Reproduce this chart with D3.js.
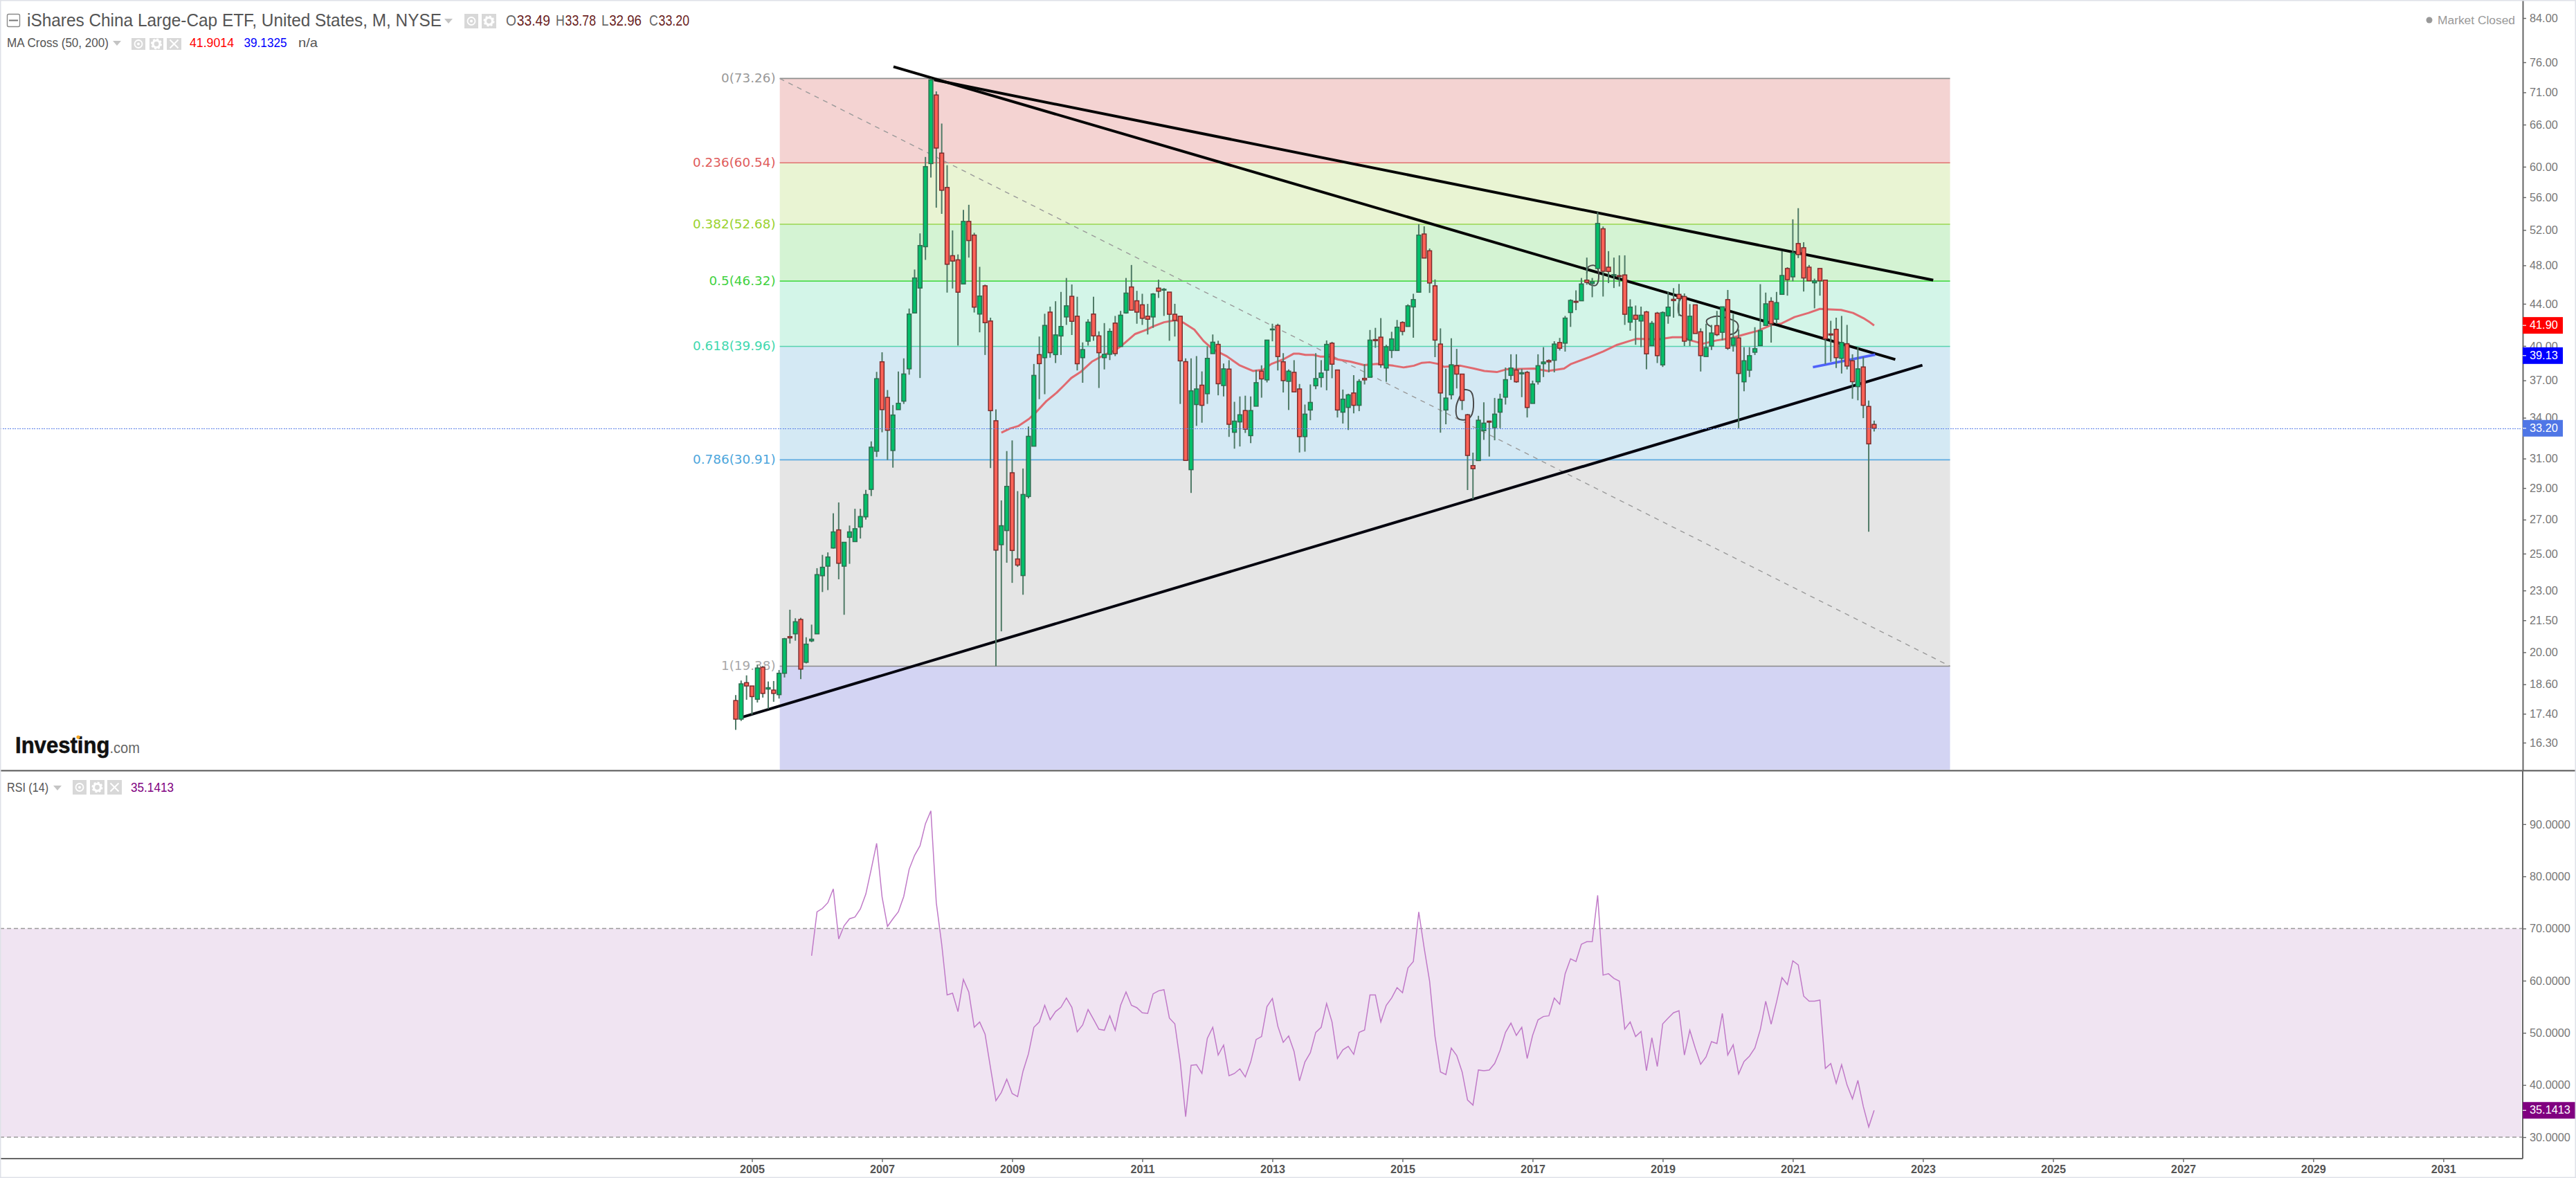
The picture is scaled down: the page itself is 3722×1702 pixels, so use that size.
<!DOCTYPE html>
<html><head><meta charset="utf-8">
<script src="https://cdn.jsdelivr.net/npm/d3@7"></script>
<style>
html,body{margin:0;padding:0;background:#fff;overflow:hidden}
svg{display:block}
text{font-family:"Liberation Sans",Arial,sans-serif}
</style></head><body><div id="chart"></div>
<script>
// Candle index 0 = Oct 2004, one candle per month
const opens=[17.93,17.19,18.67,18.53,17.98,19.33,18.40,18.36,18.17,19.07,20.72,20.85,21.54,19.55,20.52,20.85,23.78,24.30,25.32,26.38,24.30,25.94,25.69,26.55,27.17,28.91,31.52,38.59,35.60,31.57,34.63,35.30,37.98,43.10,45.60,50.07,60.43,70.58,61.88,57.25,49.06,48.60,46.02,53.02,51.40,42.99,45.83,42.32,33.77,25.51,26.34,30.02,24.70,23.79,28.45,31.88,39.22,38.95,43.18,39.22,40.91,42.71,44.75,42.78,38.95,40.43,42.99,40.92,38.95,39.25,42.12,39.95,43.10,45.71,44.30,43.90,42.78,42.71,45.59,45.39,45.18,42.97,42.78,38.60,30.23,35.03,36.60,35.90,39.31,40.14,36.57,37.96,32.90,33.68,34.56,32.65,34.90,37.78,37.04,41.50,41.90,38.59,36.92,37.68,36.29,32.58,34.60,36.55,37.24,37.86,40.25,37.88,34.43,34.80,35.96,34.97,37.17,37.26,40.58,40.80,38.05,39.59,39.59,42.18,41.80,43.69,45.17,51.53,49.61,45.83,40.17,34.60,35.81,38.25,37.53,34.23,30.51,30.86,33.02,33.74,33.25,34.43,35.62,37.42,37.88,37.55,37.68,35.12,36.88,38.42,38.70,38.72,40.31,40.25,43.14,44.25,44.30,46.42,46.07,47.66,52.14,47.80,46.90,46.90,46.97,42.21,42.88,42.32,43.20,40.03,43.08,38.32,42.81,44.45,44.95,44.73,40.53,43.90,41.30,39.05,39.99,41.88,41.25,44.42,40.05,40.73,36.88,37.86,39.43,40.03,41.90,44.24,42.49,44.95,47.66,46.77,50.43,49.95,47.80,46.14,47.66,46.42,41.10,41.53,38.89,40.20,38.68,36.48,38.14,34.88,33.49];
const highs=[18.15,18.76,18.98,18.53,19.44,19.39,18.72,18.74,19.21,20.66,22.02,21.60,21.62,20.69,21.29,24.19,24.93,25.07,27.39,28.07,25.65,26.64,27.67,27.67,28.88,32.23,37.72,39.43,36.20,34.99,37.75,38.89,43.53,47.55,51.60,61.34,73.26,71.15,66.16,60.21,51.95,49.20,54.42,55.05,51.67,47.84,45.95,42.64,34.65,28.20,31.53,32.30,28.80,30.31,33.33,38.40,40.86,43.02,43.72,44.26,45.20,46.65,45.97,44.71,40.32,42.49,44.71,41.34,42.12,41.62,42.81,43.30,46.65,48.04,45.31,45.01,43.99,45.08,46.47,45.60,45.18,44.00,42.78,38.89,38.89,39.09,37.76,39.95,41.05,40.47,38.44,38.73,35.25,35.68,35.74,35.68,37.88,38.28,40.53,42.06,42.06,39.35,37.93,38.73,36.70,35.03,36.66,39.35,38.73,40.50,40.37,37.88,36.24,35.90,37.44,37.10,38.38,41.47,41.67,42.60,40.10,41.30,42.42,42.30,43.95,45.01,52.68,52.43,49.87,46.49,41.62,37.98,40.70,39.73,37.53,34.30,31.42,34.15,35.21,33.78,35.56,35.90,38.09,39.25,39.25,37.98,37.80,36.98,39.25,39.89,38.80,40.43,40.73,42.81,44.45,45.36,46.65,48.85,46.65,54.14,52.41,49.57,48.85,49.10,49.10,44.45,43.83,43.72,43.30,42.32,43.20,43.25,45.24,45.59,46.02,45.04,43.97,43.90,41.62,42.06,41.95,43.30,43.70,45.40,42.99,41.52,39.89,39.89,41.73,46.00,45.13,44.66,45.20,49.57,47.80,53.27,54.63,50.58,48.04,46.58,47.66,46.42,42.34,42.64,42.81,41.95,39.25,39.89,39.00,35.35,33.78];
const lows=[16.78,17.12,17.96,17.37,17.85,18.05,17.60,17.88,18.01,18.89,20.40,20.53,18.82,19.50,20.46,20.85,22.92,23.02,25.29,23.59,21.77,24.43,25.69,25.87,27.00,28.48,31.11,32.90,30.90,30.37,34.63,35.08,37.48,43.10,37.20,48.60,58.55,54.69,53.93,45.13,45.55,40.03,46.02,48.85,43.14,41.25,39.19,30.34,19.38,20.97,24.49,23.40,24.26,22.78,28.33,31.88,35.46,35.86,38.95,38.48,39.19,41.95,41.00,37.84,36.80,40.03,40.47,36.37,37.93,38.74,39.09,39.95,43.03,43.37,42.06,41.95,41.05,41.67,44.59,42.81,40.47,40.86,35.08,30.87,28.68,33.38,33.62,35.08,39.31,35.77,35.68,32.56,31.70,31.86,32.85,32.10,34.90,35.58,36.83,40.42,37.84,36.00,34.60,36.05,31.43,31.49,33.81,36.27,36.42,36.18,37.18,34.02,33.56,33.07,34.34,34.51,36.66,37.26,39.83,38.07,36.88,38.92,39.59,40.97,41.80,40.75,45.17,48.80,45.10,39.00,32.87,33.50,35.44,36.33,34.60,28.87,28.28,30.86,32.34,31.14,32.31,33.20,35.03,37.04,36.80,35.62,34.02,35.12,36.65,37.28,37.68,37.68,39.59,39.49,41.76,43.37,44.30,45.95,44.66,47.66,44.73,46.11,45.60,45.76,41.95,41.40,40.10,39.89,37.94,40.03,38.48,38.14,42.06,42.64,42.81,39.99,39.99,41.14,37.75,39.05,39.63,40.90,40.50,39.65,39.49,33.20,36.10,37.28,39.19,40.03,41.90,40.30,42.06,44.95,44.82,46.30,48.80,45.24,46.35,43.55,44.82,38.38,38.59,38.05,37.58,37.93,35.49,35.37,33.97,26.27,32.96];
const closes=[17.19,18.62,18.53,18.09,19.30,18.22,18.46,18.22,19.07,20.62,20.66,21.43,19.25,20.37,20.60,23.84,24.24,24.81,26.26,24.46,25.65,26.26,26.45,27.19,28.58,31.81,37.14,34.63,33.05,34.21,35.13,37.54,42.99,46.65,50.20,60.02,73.04,62.59,56.89,48.12,48.47,45.17,53.02,50.77,43.67,44.78,42.16,34.55,25.20,26.63,29.11,25.18,24.36,28.58,32.60,37.42,38.43,41.90,39.39,41.01,41.80,43.80,42.29,38.42,39.67,42.21,40.92,39.39,39.25,41.34,39.31,42.88,45.08,43.37,43.18,42.58,42.49,44.99,45.27,45.47,42.97,42.38,38.67,30.87,36.14,36.29,34.97,38.89,40.34,36.72,37.98,33.50,33.74,34.23,33.13,34.56,36.81,37.12,40.53,41.56,39.05,36.98,37.78,36.05,32.58,34.28,35.20,37.15,37.62,40.14,38.38,34.60,35.46,35.81,34.97,36.91,37.04,40.53,40.48,38.33,39.93,40.64,41.73,41.34,43.80,44.42,51.40,48.80,46.12,40.53,35.96,35.55,38.33,37.53,35.36,31.22,30.30,33.81,33.59,33.66,34.28,35.46,37.06,38.05,36.88,37.65,34.80,36.70,38.25,38.57,38.58,40.17,39.79,42.60,44.34,44.15,46.02,46.19,46.26,52.77,47.36,47.34,47.00,46.80,42.97,43.67,42.49,42.88,39.29,42.10,39.13,43.14,43.67,44.32,44.53,40.43,42.78,41.14,39.13,39.85,41.19,41.03,43.70,39.79,40.73,37.58,38.68,39.13,39.75,41.40,44.00,42.06,44.12,46.91,46.47,49.38,49.19,46.65,46.35,46.35,46.35,40.64,41.00,38.95,40.31,38.22,36.89,37.98,34.97,32.05,33.20];

// MA(50) readings: candle index, price
const maIndex=[49,50.6,52.2,54.1,55.5,57.3,59.2,60.6,61.9,63.6,65.7,68,70,71.6,73.7,75.8,77,79,81.2,82.6,84.6,86.3,88,90.5,92.9,95.4,97.3,98.8,101,102.9,103.9,105.1,106.6,107.8,109.5,111,113.4,115.9,118.3,121.3,123.2,125.1,126.6,128,129.6,130.7,133.7,136.2,138.1,140.4,142.3,147.3,149.8,152.8,154.1,157.5,160,162.6,165.2,166.2,170.3,172.8,174.5,176.2,178.4,180.9,183.5,186.4,188.6,191.1,192.8,195.3,197.9,200,201.7,203.9,206.1,208,209.2,210];
const maValues=[32.87,33.18,33.38,33.91,34.47,35.3,35.98,36.6,37.2,37.7,38.6,39.2,39.6,40.2,41.1,41.5,41.8,42.2,42.4,42.16,41.5,40.45,39.7,39.1,38.3,37.8,37.9,38.4,38.8,39.3,39.3,39.2,39.2,39.05,39.05,38.8,38.6,38.3,38.4,38.25,38.1,38.25,38.5,38.55,38.4,38.15,38.25,38,37.8,37.7,37.95,38,37.8,38,38.4,39,39.5,40.1,40.5,40.65,40.6,40.8,40.8,40.5,40.2,40.5,40.7,41.1,41.4,41.95,42.06,42.7,43.1,43.5,43.45,43.4,43.1,42.6,42.2,41.9];

// RSI(14) from candle index 14 onward
const rsiStart=14;
const rsiValues=[64.78,73.19,73.85,74.96,77.6,68,70.53,71.86,72.2,73.76,76.6,81.37,86.33,76.06,70.4,71.86,73.19,76.15,81.37,84.03,85.88,90.09,92.57,74.96,66.99,57.26,57.6,54.07,60.22,57.79,51.06,52.08,49.73,43.32,37,38.58,41.1,38.36,37.79,42.65,45.97,51.06,52.08,55.27,52.52,54.07,54.91,56.68,54.91,50.18,51.5,54.47,52.61,50.7,50.49,53.27,50.49,55.27,57.83,55.27,54.82,53.85,53.72,57.48,58.05,58.27,52.83,51.73,44.42,33.94,43.76,43.89,42.21,48.94,51.06,45.75,47.65,41.77,42.21,43.1,41.55,44.42,48.72,49.29,55.04,56.59,51.28,48.19,49.42,46.42,40.8,44.42,46.19,50.09,51.06,55.62,52.08,45.09,46.73,47.4,45.88,50.09,50.53,57.26,57.26,52.08,55.27,56.68,58.67,57.7,62.43,63.67,73.19,66.24,59.91,49.29,42.52,41.99,47.08,45.66,42.52,37.12,36.15,42.88,42.74,42.88,44.12,46.64,50.09,51.86,49.51,51.06,45.09,49.51,52.48,53.14,53.27,56.68,55.49,61.33,64.2,63.67,66.99,67.48,67.48,76.37,61.06,61.33,60.44,59.91,50.71,52.08,49.29,50.27,42.74,49.07,43.54,51.73,52.83,53.85,54.25,45.75,50.49,47.08,43.98,45.4,48.32,47.96,53.72,45.75,47.7,42.12,44.51,45.53,47.08,50.62,56.06,51.64,55.93,60.58,59.25,63.81,63.01,57.04,56.06,56.06,56.28,43.19,44.12,40.31,43.89,40,37.35,40.88,35.88,31.95,35.14];

// Fibonacci retracement
const fibRatios=["0","0.236","0.382","0.5","0.618","0.786","1"];
const fibPrices=[73.26,60.54,52.68,46.32,39.96,30.91,19.38];
const fibFills=["#f4d3d2","#e9f4d3","#d4f3d3","#d3f5e8","#d4e9f4","#e5e5e5","#d3d4f3"];
const fibLines=["#8f8f8f","#e0736e","#9ad651","#4ddb4d","#55d3ae","#5daadf","#8a8a8a"];
const fibText=["#999999","#e05c5c","#9ad22f","#3fd23f","#3fd8ae","#4da6dc","#a8a8a8"];
const fibStart=8.13, fibEnd=224;

// Drawn trend lines: [candle index, price] end points
const trendMiddle=[[29.1,75.24],[213.9,38.79]];
const trendUpper=[[36.6,73.04],[220.9,46.42]];
const trendLower=[[1.24,17.27],[218.9,38.29]];
const trendBlue=[[198.7,38.12],[210.2,39.22]];
const brushA=[[134.3,36.24],[135.6,36.08],[136.1,35.2],[135.6,34.1],[134.5,33.84],[133.2,33.97],[132.9,34.85],[133.6,35.7],[134.3,36.24]];
const brushB=[[157,47.15],[157.3,47.84],[158.3,48],[159,47.66],[159.1,46.3],[158.6,45.87],[157.5,46],[157,46.4]];
const brushC=[[174.6,44.7],[174,44.2],[174,43],[174.5,42.8]];
const brushD=[[180.1,41.73],[179.2,42.06],[179.1,42.38],[179.9,42.66],[181.3,42.78],[183.5,42.5],[184.7,42.16],[184.9,41.62],[184.3,41.19],[183.2,41.03]];

// Axes
const priceTicks=[84,76,71,66,60,56,52,48,44,40,37,34,31,29,27,25,23,21.5,20,18.6,17.4,16.3];
const rsiTicks=[90,80,70,60,50,40,30];
const yearTicks=[2005,2007,2009,2011,2013,2015,2017,2019,2021,2023,2025,2027,2029,2031];
const lastPrice=33.20, maFast=41.9014, maSlow=39.1325, lastRsi=35.1413;
const ohlcNames=["O","H","L","C"], ohlcLast=[33.49,33.78,32.96,33.20];

const W=3722,H=1702,axisX=3645,paneBottom=1113,rsiBottom=1674;
const svg=d3.select("#chart").append("svg").attr("width",W).attr("height",H).attr("viewBox",`0 0 ${W} ${H}`);
const x=d3.scaleLinear().domain([0,210]).range([1063,2707.9]);
const y=d3.scaleLog().domain([15.31,87.5]).range([paneBottom,0]);
const r=d3.scaleLinear().domain([30,90]).range([1643,1190.8]);
const monthOfYear=yr=>(yr-2004)*12-9;

svg.append("rect").attr("width",W).attr("height",H).attr("fill","#fff");

// Fib bands
const bands=fibPrices.map((p,i)=>({top:p,bot:i<fibPrices.length-1?fibPrices[i+1]:null,fill:fibFills[i]}));
svg.append("g").selectAll("rect").data(bands).join("rect")
 .attr("x",x(fibStart)).attr("width",x(fibEnd)-x(fibStart))
 .attr("y",d=>y(d.top)).attr("height",d=>(d.bot?y(d.bot):paneBottom-1)-y(d.top)).attr("fill",d=>d.fill);
svg.append("g").selectAll("line").data(fibPrices).join("line")
 .attr("x1",x(fibStart)).attr("x2",x(fibEnd)).attr("y1",d=>y(d)).attr("y2",d=>y(d))
 .attr("stroke",(d,i)=>fibLines[i]).attr("stroke-width",1.6);
svg.append("g").selectAll("text").data(fibPrices).join("text")
 .attr("x",x(fibStart)-6).attr("y",d=>y(d)+1).attr("text-anchor","end").attr("dominant-baseline","middle")
 .style("font-family","'DejaVu Sans'").style("font-size","18.4px").attr("fill",(d,i)=>fibText[i])
 .text((d,i)=>`${fibRatios[i]}(${d.toFixed(2)})`);
// diagonal fib link
svg.append("line").attr("x1",x(fibStart)).attr("y1",y(fibPrices[0])).attr("x2",x(fibEnd)).attr("y2",y(fibPrices[6]))
 .attr("stroke","#9a9a9a").attr("stroke-width",1.4).attr("stroke-dasharray","7,7");

// Moving average
const pt=d3.line().x(d=>x(d[0])).y(d=>y(d[1]));
svg.append("path").attr("d",pt(maIndex.map((m,i)=>[m,maValues[i]])))
 .attr("fill","none").attr("stroke","#e06a70").attr("stroke-width",3).attr("stroke-linejoin","round");

// Trend lines
[[trendMiddle,"#050505",4],[trendUpper,"#050505",4],[trendLower,"#05050f",4],[trendBlue,"#4f62fa",3.6]].forEach(([d,c,w])=>{
 svg.append("path").attr("d",pt(d)).attr("fill","none").attr("stroke",c).attr("stroke-width",w);
});
const curve=d3.line().x(d=>x(d[0])).y(d=>y(d[1])).curve(d3.curveCatmullRom);
[brushA,brushB,brushC,brushD].forEach(d=>{
 svg.append("path").attr("d",curve(d)).attr("fill","none").attr("stroke","#4a4a4a").attr("stroke-width",2);
});

// Candles
const candles=opens.map((o,i)=>({i,o,h:highs[i],l:lows[i],c:closes[i]}));
const cg=svg.append("g").selectAll("g").data(candles).join("g");
cg.append("line").attr("x1",d=>x(d.i)).attr("x2",d=>x(d.i)).attr("y1",d=>y(d.h)).attr("y2",d=>y(d.l))
 .attr("stroke","#4f7a66").attr("stroke-width",2);
cg.append("rect").attr("x",d=>x(d.i)-2.9).attr("width",5.8)
 .attr("y",d=>y(Math.max(d.o,d.c))).attr("height",d=>Math.max(1.2,Math.abs(y(d.o)-y(d.c))))
 .attr("fill",d=>d.c>=d.o?"#04bf6a":"#fb6257")
 .attr("stroke",d=>d.c>=d.o?"#2f6d50":"#7d2c2c").attr("stroke-width",1.5);

// RSI pane
svg.append("rect").attr("x",0).attr("width",axisX-2).attr("y",r(70)).attr("height",r(30)-r(70)).attr("fill","#f0e4f2");
svg.append("g").selectAll("line").data([70,30]).join("line")
 .attr("x1",0).attr("x2",axisX).attr("y1",d=>r(d)).attr("y2",d=>r(d))
 .attr("stroke","#9a9a9a").attr("stroke-width",1.5).attr("stroke-dasharray","6,4");
svg.append("path").attr("d",d3.line().x((d,i)=>x(i+rsiStart)).y(d=>r(d))(rsiValues))
 .attr("fill","none").attr("stroke","#c07ac8").attr("stroke-width",1.5);

// Last price line
svg.append("line").attr("x1",0).attr("x2",axisX).attr("y1",Math.round(y(lastPrice))+.5).attr("y2",Math.round(y(lastPrice))+.5)
 .attr("stroke","#5a7fe8").attr("stroke-width",1).attr("stroke-dasharray","2,1.5").attr("shape-rendering","crispEdges");

// Pane frame
svg.append("line").attr("x1",0).attr("x2",W).attr("y1",paneBottom+.5).attr("y2",paneBottom+.5).attr("stroke","#555").attr("stroke-width",2);

// Axes
function styleAxis(g,size){
 g.select(".domain").attr("stroke","#666").attr("stroke-width",2);
 g.selectAll(".tick line").attr("stroke","#666").attr("stroke-width",1.4);
 g.selectAll(".tick text").attr("fill","#777").style("font-size",size+"px").style("font-family","'Liberation Sans'");
}
const ay=svg.append("g").attr("transform",`translate(${axisX},0)`).call(d3.axisRight(y).tickValues(priceTicks).tickFormat(d3.format(".2f")).tickSize(5).tickPadding(5).tickSizeOuter(0));
styleAxis(ay,16.3);
const ar=svg.append("g").attr("transform",`translate(${axisX},0)`).call(d3.axisRight(r).tickValues(rsiTicks).tickFormat(d3.format(".4f")).tickSize(5).tickPadding(5).tickSizeOuter(0));
styleAxis(ar,16.3);
ar.select(".domain").attr("d",`M0,${paneBottom}V${rsiBottom}`);
const ax=svg.append("g").attr("transform",`translate(0,${rsiBottom})`).call(d3.axisBottom(x).tickValues(yearTicks.map(monthOfYear)).tickFormat(m=>yearTicks[yearTicks.map(monthOfYear).indexOf(m)]).tickSize(5).tickPadding(4).tickSizeOuter(0));
styleAxis(ax,16.2);
ax.selectAll(".tick text").style("font-weight","bold").attr("fill","#555");
ax.select(".domain").attr("d",`M0,0H${axisX}`);

// Price tags
function tag(yPos,color,label,w){
 svg.append("rect").attr("x",axisX).attr("y",yPos-12).attr("width",w).attr("height",24).attr("fill",color);
 svg.append("line").attr("x1",axisX).attr("x2",axisX+5).attr("y1",yPos).attr("y2",yPos).attr("stroke","#fff").attr("stroke-width",1.2);
 svg.append("text").attr("x",axisX+10).attr("y",yPos+.5).attr("dominant-baseline","middle").attr("fill","#fff").style("font-size","16.3px").text(label);
}
tag(y(maFast),"#ff0000",maFast.toFixed(2),58);
tag(y(maSlow),"#0000ff",maSlow.toFixed(2),58);
tag(y(lastPrice),"#4f76e6",lastPrice.toFixed(2),58);
tag(r(lastRsi),"#800080",lastRsi.toFixed(4),77);

// Legend helpers
function tri(cx,cy){ svg.append("path").attr("d",`M${cx-6},${cy-3}h12l-6,7z`).attr("fill","#c4c4c4"); }
function icon(x0,x1,y0,y1,kind){
 svg.append("rect").attr("x",x0).attr("y",y0).attr("width",x1-x0).attr("height",y1-y0).attr("fill","#d8d8d8");
 const cx=(x0+x1)/2,cy=(y0+y1)/2;
 if(kind==="eye"){svg.append("circle").attr("cx",cx).attr("cy",cy).attr("r",5.5).attr("fill","none").attr("stroke","#fff").attr("stroke-width",1.8);
  svg.append("circle").attr("cx",cx).attr("cy",cy).attr("r",2).attr("fill","#fff");}
 if(kind==="gear"){svg.append("circle").attr("cx",cx).attr("cy",cy).attr("r",5).attr("fill","none").attr("stroke","#fff").attr("stroke-width",3.2);
  svg.append("circle").attr("cx",cx).attr("cy",cy).attr("r",7).attr("fill","none").attr("stroke","#fff").attr("stroke-width",2).attr("stroke-dasharray","3,2.5");}
 if(kind==="x"){svg.append("path").attr("d",`M${cx-6},${cy-6}L${cx+6},${cy+6}M${cx+6},${cy-6}L${cx-6},${cy+6}`).attr("stroke","#fff").attr("stroke-width",2);}
}
function label(xs,ys,txt,len,size,fill){
 return svg.append("text").attr("x",xs).attr("y",ys).attr("textLength",len).attr("lengthAdjust","spacingAndGlyphs").style("font-size",size+"px").attr("fill",fill).text(txt);
}
// Header
svg.append("rect").attr("x",10.5).attr("y",20.5).attr("width",18).attr("height",18).attr("rx",2).attr("fill","#fff").attr("stroke","#8a8a8a").attr("stroke-width",1.4);
svg.append("line").attr("x1",13).attr("x2",26).attr("y1",29.5).attr("y2",29.5).attr("stroke","#777").attr("stroke-width",2);
label(39,38,"iShares China Large-Cap ETF, United States, M, NYSE",599,25.5,"#555");
tri(648,30);
icon(671,691,20,41,"eye"); icon(696,717,20,41,"gear");
const ohlcX=[731,803,869,938];
ohlcNames.forEach((n,i)=>{
 const t=svg.append("text").attr("x",ohlcX[i]).attr("y",37).attr("textLength",i===0?64:58).attr("lengthAdjust","spacingAndGlyphs").style("font-size","22px");
 t.append("tspan").attr("fill","#666").text(n);
 t.append("tspan").attr("fill","#6b1f1f").attr("dx",1).text(ohlcLast[i].toFixed(2));
});
label(10,68,"MA Cross (50, 200)",147,19,"#555");
tri(169,62);
icon(190,210,55,72,"eye"); icon(216,236,55,72,"gear"); icon(241,262,55,72,"x");
label(274,68,maFast.toFixed(4),64,19,"#ff0000");
label(352.5,68,maSlow.toFixed(4),62,19,"#0000ff");
label(431,68,"n/a",28,19,"#555");
// RSI legend
label(10,1144,"RSI (14)",60,19,"#555");
tri(83,1138);
icon(105,125,1127,1148,"eye"); icon(130,151,1127,1148,"gear"); icon(155,176,1127,1148,"x");
label(189,1144,lastRsi.toFixed(4),62,19,"#800080");
// Market closed
svg.append("circle").attr("cx",3510).attr("cy",29).attr("r",4.5).attr("fill","#999");
label(3522,34.5,"Market Closed",112,16,"#999");
// Logo: one text element with two styled runs
const logo=svg.append("text").attr("x",22).attr("y",1088).attr("textLength",180).attr("lengthAdjust","spacingAndGlyphs");
logo.append("tspan").style("font-size","34px").style("font-weight","bold").attr("fill","#111").attr("stroke","#111").attr("stroke-width",.6).text("Investing");
logo.append("tspan").style("font-size","22px").attr("fill","#666").text(".com");
svg.append("circle").attr("cx",113).attr("cy",1065).attr("r",2.6).attr("fill","#f5a623");

// Outer frame
svg.append("rect").attr("x",.75).attr("y",.75).attr("width",W-1.5).attr("height",H-1.5).attr("fill","none").attr("stroke","#dfe1e8").attr("stroke-width",1.5);
</script></body></html>
